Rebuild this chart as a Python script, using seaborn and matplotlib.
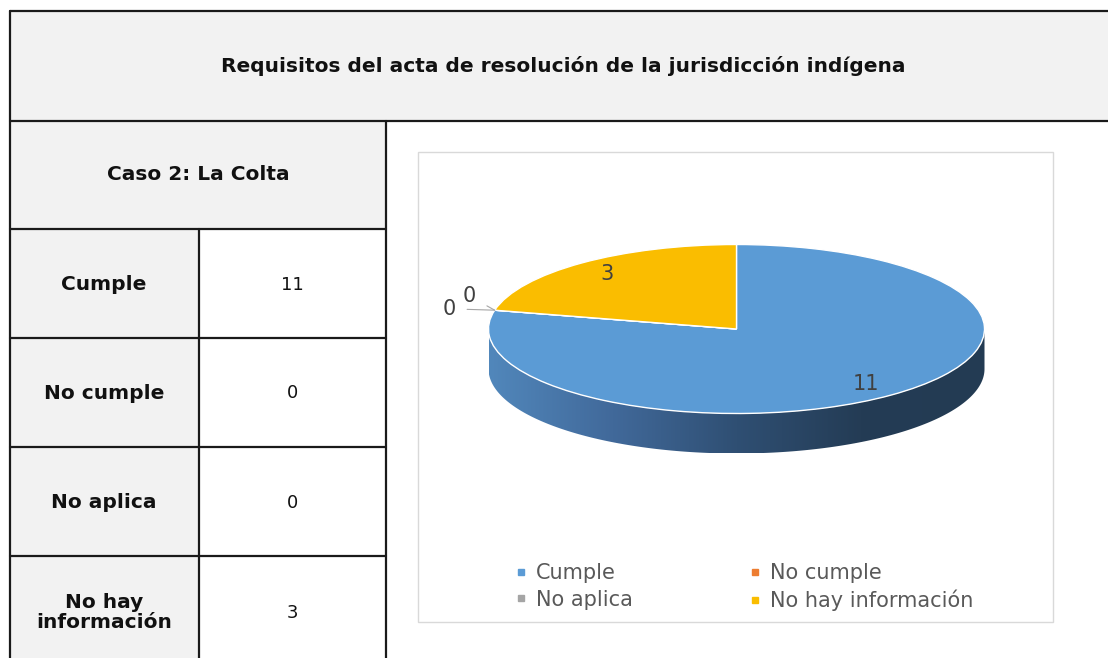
import numpy as np
import matplotlib
matplotlib.use("Agg")
import matplotlib.pyplot as plt
from matplotlib.patches import Rectangle, Polygon
from matplotlib.lines import Line2D
from matplotlib.colors import LinearSegmentedColormap
import seaborn as sns

# data
categories = ["Cumple", "No cumple", "No aplica", "No hay información"]
values = [11, 0, 0, 3]
row_labels = ["Cumple", "No cumple", "No aplica", "No hay\ninformación"]
title = "Requisitos del acta de resolución de la jurisdicción indígena"
case_label = "Caso 2: La Colta"
colors = ["#5b9bd5", "#ed7d31", "#a5a5a5", "#fabd00"]

sns.set_theme(style="white")
plt.rcParams["font.family"] = ["DejaVu Sans"]

W, H = 1108, 658
fig = plt.figure(figsize=(W / 100, H / 100), dpi=100)
bg = fig.add_axes([0, 0, 1, 1])
bg.set_xlim(0, W)
bg.set_ylim(H, 0)
bg.axis("off")

# table cells
grey = "#f2f2f2"
line = "#1a1a1a"
bg.add_patch(Rectangle((10, 11), 1110, 110, facecolor=grey, edgecolor="none"))
bg.add_patch(Rectangle((10, 121), 376, 108, facecolor=grey, edgecolor="none"))
row_edges = [229, 338, 447, 556, 665]
for i in range(len(row_labels)):
    bg.add_patch(Rectangle((10, row_edges[i]), 189, row_edges[i + 1] - row_edges[i],
                           facecolor=grey, edgecolor="none"))

lw = 1.6
bg.plot([10, 1110], [11, 11], color=line, lw=lw)
bg.plot([10, 1110], [121, 121], color=line, lw=lw)
bg.plot([10, 386], [229, 229], color=line, lw=lw)
for y in row_edges[1:-1]:
    bg.plot([10, 386], [y, y], color=line, lw=lw)
bg.plot([10, 10], [11, 670], color=line, lw=lw)
bg.plot([386, 386], [121, 670], color=line, lw=lw)
bg.plot([199, 199], [229, 670], color=line, lw=lw)

bg.text(563, 66, title, ha="center", va="center", fontsize=14.5, fontweight="bold", color="#111111")
bg.text(198, 175, case_label, ha="center", va="center", fontsize=14.5, fontweight="bold", color="#111111")
for i, (lab, v) in enumerate(zip(row_labels, values)):
    yc = (row_edges[i] + min(row_edges[i + 1], 665)) / 2 + (2 if i == 3 else 1)
    bg.text(104, yc, lab, ha="center", va="center", fontsize=14.5, fontweight="bold",
            color="#111111", linespacing=1.05)
    bg.text(292, yc, str(v), ha="center", va="center", fontsize=13, color="#111111")

# chart area
bg.add_patch(Rectangle((418, 152), 635, 470, facecolor="white", edgecolor="#d9d9d9", lw=1))

# pie axes: unit circle -> ellipse in pixels
cx, cy, rx, ry, depth = 736.5, 329, 248, 84.5, 40
x0, y0, x1, y1 = 418, 152, 1053, 622
pax = fig.add_axes([x0 / W, 1 - y1 / H, (x1 - x0) / W, (y1 - y0) / H])
pax.set_facecolor("none")
d = depth / ry

# side of the cylinder with gradient
t = np.linspace(np.pi, 2 * np.pi, 200)
top = np.column_stack([np.cos(t), np.sin(t)])
bot = np.column_stack([np.cos(t[::-1]), np.sin(t[::-1]) - d])
side = Polygon(np.vstack([top, bot]), closed=True, facecolor="none", edgecolor="none")
pax.add_patch(side)
cmap = LinearSegmentedColormap.from_list("side", ["#5187bb", "#41699a", "#2f4f73", "#243c55", "#233b53"])
grad = np.linspace(0, 1, 256).reshape(1, -1)
im = pax.imshow(grad, cmap=cmap, extent=[-1, 1, -1 - d, 0], aspect="auto", zorder=1)
im.set_clip_path(side)

wedges, _ = pax.pie(values, colors=colors, startangle=90, counterclock=False,
                    wedgeprops=dict(edgecolor="white", linewidth=1.0, zorder=2))
pax.set_aspect("auto")
pax.set_xlim((x0 - cx) / rx, (x1 - cx) / rx)
pax.set_ylim((cy - y1) / ry, (cy - y0) / ry)
pax.axis("off")

# data labels
for w, v in zip(wedges, values):
    if v > 0:
        a = np.deg2rad((w.theta1 + w.theta2) / 2)
        pax.text(0.84 * np.cos(a), 0.84 * np.sin(a), str(v), ha="center", va="center",
                 fontsize=15, color="#404040", zorder=5)

zero = [w for w, v in zip(wedges, values) if v == 0]
offsets = [(-18, 10), (-33, 1)]
for w, off in zip(zero, offsets):
    a = np.deg2rad(w.theta1)
    pax.annotate("0", xy=(np.cos(a), np.sin(a)), xytext=off, textcoords="offset points",
                 ha="center", va="center", fontsize=15, color="#404040",
                 arrowprops=dict(arrowstyle="-", color="#a6a6a6", lw=0.8, shrinkA=6, shrinkB=0))

# legend
order = [0, 2, 1, 3]
handles = [Line2D([], [], marker="s", ls="none", markersize=5, color=colors[i]) for i in order]
fig.legend(handles, [categories[i] for i in order], ncol=2, loc="center",
           bbox_to_anchor=(744 / W, 1 - 587 / H), frameon=False, fontsize=15,
           handlelength=0.6, handletextpad=0.4, columnspacing=5.6, labelspacing=0.32,
           labelcolor="#595959")

fig.savefig("out.png", dpi=100)
